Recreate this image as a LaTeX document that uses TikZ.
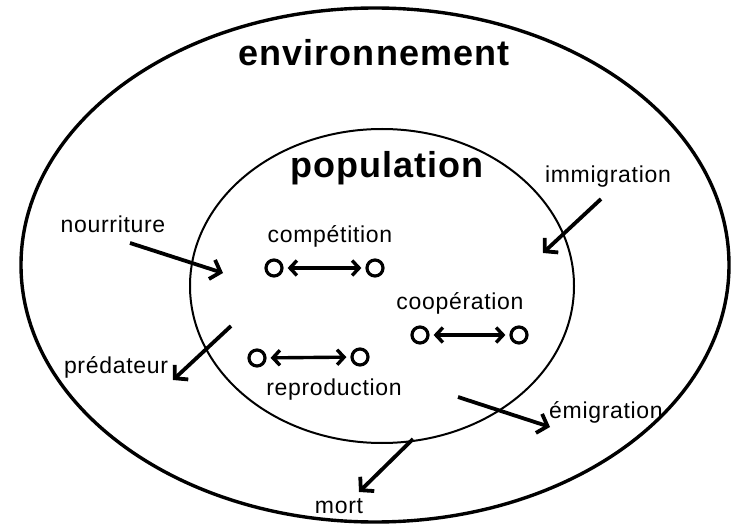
\documentclass[tikz,border=0pt]{standalone}
\usepackage{fontspec}
\setmainfont{Liberation Sans}
\newfontfamily\labelfont{Liberation Sans}[LetterSpace=3]
\newfontfamily\titlefont{Liberation Sans}[LetterSpace=3]
\usetikzlibrary{arrows.meta,shapes.geometric}
\begin{document}
\begin{tikzpicture}[x=1pt,y=-1pt,
  lbl/.style={font=\labelfont\fontsize{23}{27}\selectfont, inner sep=0pt, anchor=base},
  ttl/.style={font=\titlefont\bfseries\fontsize{36}{42}\selectfont, inner sep=0pt, anchor=base},
  dot/.style={circle, draw, line width=3.2pt, minimum size=16pt, inner sep=0pt},
  link/.style={line width=3.4pt, {Straight Barb[length=7pt,width=15pt]}-{Straight Barb[length=7pt,width=15pt]}, shorten <=4pt, shorten >=4pt},
  flow/.style={line width=3.8pt, -{Straight Barb[length=9pt,width=20pt]}}]
\useasboundingbox (0,0) rectangle (731,529);

% the two nested regions
\node[ellipse, draw, line width=3.4pt, minimum width=708pt, minimum height=514pt, inner sep=0pt] (env) at (375,265) {};
\node[ellipse, draw, line width=2pt, minimum width=384pt, minimum height=314pt, inner sep=0pt] (pop) at (382,286) {};

% titles
\node[ttl] (tenv) at (374,66) {environnement};
\node[ttl] (tpop) at (387,178) {population};

% interactions inside the population
\node[lbl] (tcomp) at (330,243) {compétition};
\node[dot] (c1) at (274,268) {};
\node[dot] (c2) at (375,268) {};
\draw[link] (c1) -- (c2);

\node[lbl] (tcoop) at (460,310) {coopération};
\node[dot] (o1) at (420,335) {};
\node[dot] (o2) at (519,335) {};
\draw[link] (o1) -- (o2);

\node[dot] (r1) at (257,358) {};
\node[dot] (r2) at (360,357) {};
\draw[link] (r1) -- (r2);
\node[lbl] (trep) at (334,395) {reproduction};

% exchanges with the environment
\node[lbl] (tnour) at (113,233) {nourriture};
\node[lbl] (tpred) at (116,373) {prédateur};
\node[lbl] (timm) at (608,183) {immigration};
\node[lbl] (tem) at (606,418) {émigration};
\node[lbl] (tmort) at (339,513) {mort};

\coordinate (n0) at (130,243);
\coordinate (n1) at (223,273);
\coordinate (p0) at (231,326);
\coordinate (p1) at (173,380);
\coordinate (i0) at (601,199);
\coordinate (i1) at (543,253);
\coordinate (e0) at (458,397);
\coordinate (e1) at (550,427);
\coordinate (m0) at (413,439);
\coordinate (m1) at (359,492);

\draw[flow] (n0) -- (n1);
\draw[flow] (p0) -- (p1);
\draw[flow] (i0) -- (i1);
\draw[flow] (e0) -- (e1);
\draw[flow] (m0) -- (m1);
\end{tikzpicture}
\end{document}
